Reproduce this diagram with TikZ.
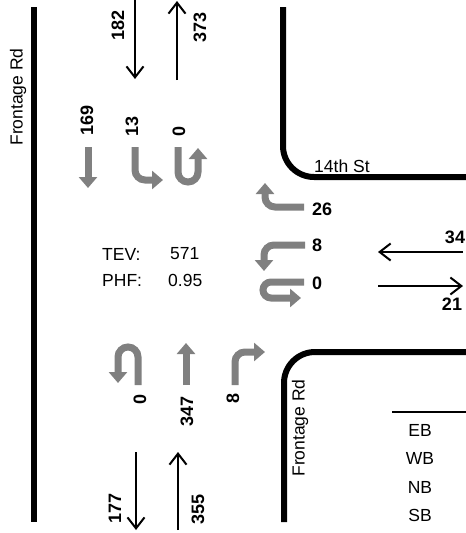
\documentclass[tikz,border=0pt]{standalone}
\usepackage{fontspec}
\setmainfont{Liberation Sans}
\usetikzlibrary{arrows.meta}
\definecolor{mvgray}{RGB}{128,128,128}
\tikzset{
  road/.style={line width=6pt, black, rounded corners=31pt},
  garrow/.style={line width=7pt, color=mvgray, -{Triangle[length=11pt,width=18pt]}},
  tharrow/.style={line width=2pt, -{Straight Barb[length=11pt,width=17pt]}},
  vol/.style={font=\fontsize{18}{20}\selectfont\bfseries, inner sep=0pt},
  lbl/.style={font=\fontsize{17.5}{20}\selectfont, inner sep=0pt},
}
\begin{document}
\begin{tikzpicture}[x=1pt,y=-1pt]
\useasboundingbox (0,0) rectangle (466,533);
% roads
\draw[road] (34,7) -- (34,522);
\draw[road] (283,7) |- (466,177);
\draw[road] (284,522) |- (466,352);
\node[lbl, rotate=90] (frl) at (18,97) {Frontage Rd};
\node[lbl, rotate=90] (frr) at (300,428) {Frontage Rd};
\node[lbl, anchor=base west] (st) at (314,172) {14th St};
% southbound approach
\coordinate (sbin) at (135,0); \coordinate (sbine) at (135,79);
\draw[tharrow] (sbin) -- (sbine);
\coordinate (sbout) at (177,80); \coordinate (sboute) at (177,1);
\draw[tharrow] (sbout) -- (sboute);
\node[vol, rotate=90] (v182) at (118,25) {182};
\node[vol, rotate=90] (v373) at (200,27) {373};
\draw[garrow] (88,147) -- (88,188);
\draw[garrow, rounded corners=10pt] (135,147) |- (163,180);
\draw[garrow, rounded corners=10pt] (178,147) |- (198,182) -- (198,148);
\node[vol, rotate=90, anchor=west] (v169) at (87,136) {169};
\node[vol, rotate=90, anchor=west] (v13) at (132,137) {13};
\node[vol, rotate=90, anchor=west] (v0s) at (179,137) {0};
% westbound approach
\draw[garrow, rounded corners=10pt] (304,207) -| (265,183);
\draw[garrow, rounded corners=10pt] (305,245) -| (264,271);
\draw[garrow, rounded corners=8pt] (304,282) -| (263,298) -- (301,298);
\node[vol, anchor=west] (v26) at (312,209) {26};
\node[vol, anchor=west] (v8w) at (312,245) {8};
\node[vol, anchor=west] (v0w) at (312,283) {0};
\coordinate (wbin) at (463,252); \coordinate (wbine) at (378,252);
\draw[tharrow] (wbin) -- (wbine);
\coordinate (ebout) at (378,286); \coordinate (eboute) at (463,286);
\draw[tharrow] (ebout) -- (eboute);
\node[vol] (v34) at (455,237) {34};
\node[vol] (v21) at (452,304) {21};
% northbound approach
\draw[garrow, rounded corners=10pt] (138,385) |- (118,347) -- (118,383);
\draw[garrow] (186,385) -- (186,343);
\draw[garrow, rounded corners=10pt] (235,385) |- (265,352);
\node[vol, rotate=90, anchor=east] (v0n) at (140,394) {0};
\node[vol, rotate=90, anchor=east] (v347) at (187,396) {347};
\node[vol, rotate=90, anchor=east] (v8n) at (233,393) {8};
\coordinate (nbout) at (136,452); \coordinate (nboute) at (136,530);
\draw[tharrow] (nbout) -- (nboute);
\coordinate (nbin) at (178,530); \coordinate (nbine) at (178,452);
\draw[tharrow] (nbin) -- (nbine);
\node[vol, rotate=90] (v177) at (115,508) {177};
\node[vol, rotate=90] (v355) at (198,509) {355};
% center info
\node[lbl, anchor=west] (tev) at (102,254) {TEV:};
\node[lbl, anchor=west] (tevv) at (170,254) {571};
\node[lbl, anchor=west] (phf) at (102,280) {PHF:};
\node[lbl, anchor=west] (phfv) at (168,280) {0.95};
% legend
\draw[line width=2pt] (392,412) -- (466,412);
\node[lbl] (eb) at (420,430) {EB};
\node[lbl] (wb) at (420,458) {WB};
\node[lbl] (nb) at (420,487) {NB};
\node[lbl] (sb) at (420,515) {SB};
\end{tikzpicture}
\end{document}
